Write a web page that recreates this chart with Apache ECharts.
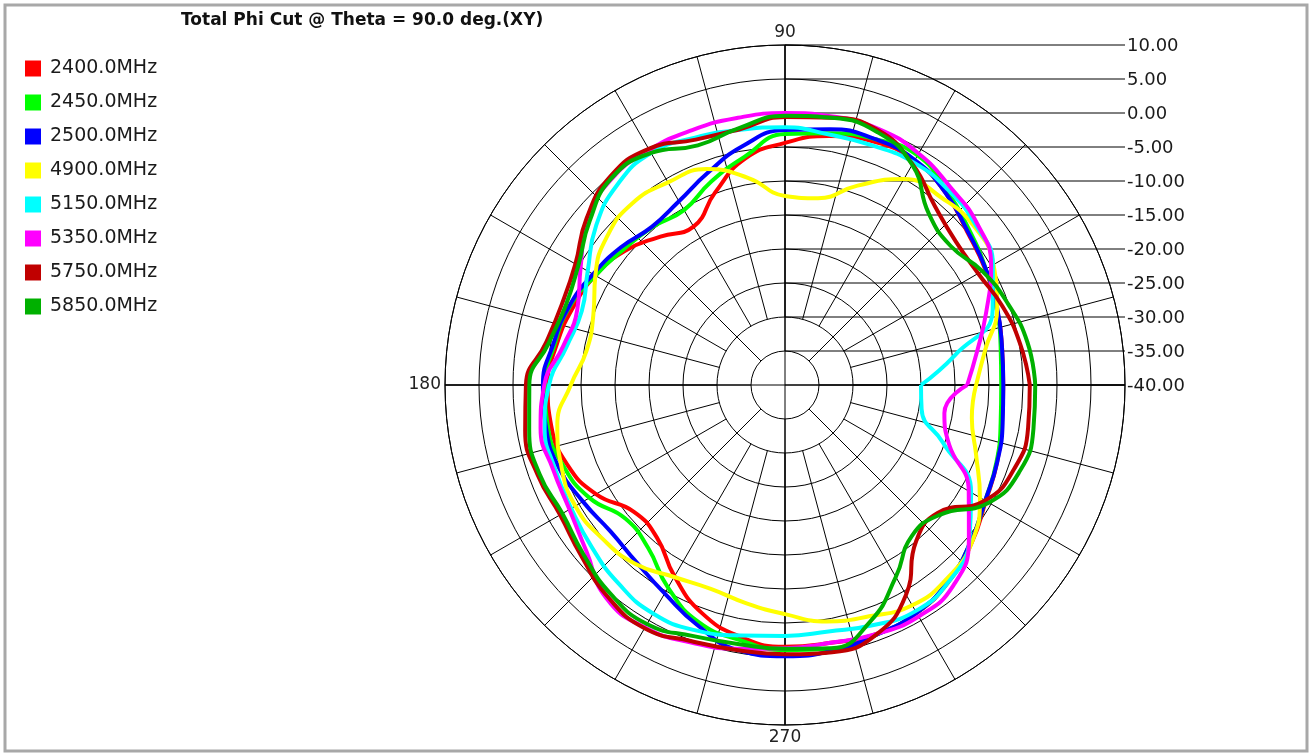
<!DOCTYPE html>
<html>
<head>
<meta charset="utf-8">
<script src="https://cdn.jsdelivr.net/npm/echarts/dist/echarts.min.js"></script>
<style>
html,body{margin:0;padding:0;background:#ffffff;}
#chart{width:1312px;height:755px;}
</style>
</head>
<body>
<div id="chart"></div>
<script>
// ---- data (dB values sampled every 10 degrees, phi = 0..350) ----
const angles = [0,10,20,30,40,50,60,70,80,90,100,110,120,130,140,150,160,170,180,190,200,210,220,230,240,250,260,270,280,290,300,310,320,330,340,350];
const freqLabels = ['2400.0MHz','2450.0MHz','2500.0MHz','4900.0MHz','5150.0MHz','5350.0MHz','5750.0MHz','5850.0MHz'];
const s2400 = [-7.9,-7.6,-6.9,-6.0,-5.0,-3.2,-1.9,-1.9,-2.8,-4.4,-6.2,-9.9,-13.1,-11.5,-9.3,-7.8,-6.8,-5.9,-5.1,-5.1,-5.9,-7.9,-11.0,-10.7,-7.5,-4.3,-2.4,-1.5,-1.5,-1.0,-1.3,-2.4,-4.1,-5.9,-6.8,-7.6];
const s2450 = [-8.2,-7.8,-6.9,-5.9,-4.6,-2.9,-1.0,-1.5,-2.4,-3.1,-5.9,-8.2,-10.3,-9.7,-9.0,-7.8,-6.3,-5.6,-4.7,-4.6,-5.3,-6.8,-9.4,-8.7,-5.6,-2.9,-1.9,-1.0,-0.6,-0.9,-1.3,-2.5,-4.3,-6.0,-6.9,-7.8];
const s2500 = [-7.9,-7.6,-6.8,-5.9,-4.9,-3.2,-1.8,-1.5,-1.8,-2.5,-4.3,-6.8,-8.8,-9.6,-8.5,-7.4,-6.2,-5.4,-4.4,-4.3,-4.6,-5.7,-6.5,-6.0,-4.6,-2.4,-0.4,-0.1,-0.3,-0.9,-1.3,-2.5,-4.3,-6.0,-6.8,-7.5];
const s4900 = [-11.9,-10.1,-6.8,-4.6,-3.7,-4.1,-5.0,-8.8,-12.1,-12.2,-9.1,-6.2,-5.6,-5.1,-5.9,-7.8,-10.0,-10.4,-8.5,-6.0,-5.0,-4.4,-4.9,-5.7,-7.4,-8.1,-7.4,-6.3,-4.7,-3.8,-2.6,-2.9,-4.1,-6.9,-10.1,-12.1];
const s5150 = [-20.0,-14.6,-7.5,-4.7,-3.4,-2.6,-2.2,-2.5,-2.6,-2.1,-1.9,-1.3,-0.6,-1.6,-3.7,-6.5,-8.2,-7.4,-5.3,-4.1,-4.0,-3.7,-2.9,-1.9,-1.2,-1.6,-2.6,-3.1,-3.2,-2.4,-1.6,-2.4,-4.6,-8.4,-15.3,-19.6];
const s5350 = [-13.2,-11.3,-8.5,-5.0,-3.1,-2.1,-0.7,0.1,0.1,0.0,-0.1,-0.1,-0.1,-0.4,-2.1,-5.3,-7.5,-6.9,-4.6,-3.5,-3.7,-3.4,-1.9,0.9,1.2,0.3,-0.6,-1.3,-1.5,-1.0,-0.7,-1.5,-4.7,-8.8,-14.3,-16.2];
const s5750 = [-4.0,-4.9,-6.0,-7.2,-7.2,-5.7,-2.5,-0.1,-0.1,-0.6,-1.8,-1.6,0.1,0.0,-1.9,-4.4,-5.1,-4.3,-1.9,-1.2,-1.3,-1.8,-0.9,0.6,1.3,0.1,-0.4,-0.4,-0.1,-0.9,-4.4,-10.0,-10.7,-6.0,-4.1,-3.7];
const s5850 = [-3.2,-3.8,-5.1,-6.5,-8.2,-7.1,-2.6,-0.4,-0.1,-0.4,-1.6,-2.5,-0.6,-0.3,-2.5,-4.9,-5.7,-4.7,-2.4,-1.8,-1.6,-2.2,-1.3,0.0,0.6,-0.7,-1.3,-1.2,-0.7,-3.1,-7.4,-11.0,-10.3,-5.4,-3.2,-2.9];
const radialTicks = [10,5,0,-5,-10,-15,-20,-25,-30,-35,-40];
const angleLabels = [90,180,270];
const titleText = 'Total Phi Cut @ Theta = 90.0 deg.(XY)';

const seriesValues = [s2400,s2450,s2500,s4900,s5150,s5350,s5750,s5850];
const colors = ['#ff0000','#00ff00','#0000ff','#ffff00','#00ffff','#ff00ff','#c00000','#00b000'];
const FONT = '"DejaVu Sans", sans-serif';
const CENTER = [785,385];
const R = 340;

const chart = echarts.init(document.getElementById('chart'), null, {renderer:'canvas'});

const gridLine = {color:'#000000', width:1};
const option = {
  animation:false,
  backgroundColor:'#ffffff',
  title:{
    text:titleText, left:176, top:7,
    textStyle:{fontFamily:FONT, fontSize:17, fontWeight:'bold', color:'#111111'}
  },
  legend:{
    orient:'vertical', left:25, top:59, padding:0, itemWidth:16, itemHeight:16, itemGap:15,
    icon:'rect', data:freqLabels,
    textStyle:{fontFamily:FONT, fontSize:19, color:'#1a1a1a', lineHeight:18, padding:[0,0,0,4]}
  },
  polar:[
    {center:CENTER, radius:[0,R]},
    {center:CENTER, radius:[34,R]},
    {center:CENTER, radius:[68,R]}
  ],
  angleAxis:[
    {polarIndex:0, type:'value', min:0, max:360, interval:90, startAngle:0, clockwise:false,
     axisLine:{show:true, lineStyle:gridLine}, axisTick:{show:false},
     axisLabel:{show:true, margin:4, fontFamily:FONT, fontSize:17, color:'#222222',
       formatter:function(v){ return angleLabels.indexOf(v) >= 0 ? String(v) : ''; }},
     splitLine:{show:true, lineStyle:gridLine}},
    {polarIndex:1, type:'value', min:0, max:360, interval:45, startAngle:0, clockwise:false,
     axisLine:{show:false}, axisTick:{show:false}, axisLabel:{show:false},
     splitLine:{show:true, lineStyle:gridLine}},
    {polarIndex:2, type:'value', min:0, max:360, interval:15, startAngle:0, clockwise:false,
     axisLine:{show:false}, axisTick:{show:false}, axisLabel:{show:false},
     splitLine:{show:true, lineStyle:gridLine}}
  ],
  radiusAxis:[
    {polarIndex:0, type:'value', min:-40, max:10, interval:5,
     axisLine:{show:false}, axisTick:{show:false}, axisLabel:{show:false},
     splitLine:{show:true, lineStyle:gridLine}},
    {polarIndex:1, type:'value', min:0, max:1, show:false},
    {polarIndex:2, type:'value', min:0, max:1, show:false}
  ],
  series: seriesValues.map(function(vals,i){
    return {
      name:freqLabels[i], type:'line', coordinateSystem:'polar', polarIndex:0,
      data: vals.map(function(v,j){ return [v, angles[j]]; }).concat([[vals[0], 360]]),
      showSymbol:false, smooth:true, z:3,
      lineStyle:{width:4, color:colors[i]}, itemStyle:{color:colors[i]}
    };
  })
};
chart.setOption(option);

// radial tick labels with horizontal leader lines, placed through the polar scale
const gEls = [];
const right = chart.convertToPixel({polarIndex:0}, [radialTicks[0], 0]);
radialTicks.forEach(function(t){
  const p = chart.convertToPixel({polarIndex:0}, [t, 90]);
  gEls.push({type:'line', z:1, silent:true,
    shape:{x1:p[0], y1:p[1], x2:right[0], y2:p[1]},
    style:{stroke:'#000000', lineWidth:1}});
  gEls.push({type:'text', z:1, silent:true, x:right[0]+2, y:p[1]+1,
    style:{text:t.toFixed(2), fill:'#1a1a1a', font:'18px ' + FONT, verticalAlign:'middle', align:'left'}});
});
gEls.push({type:'rect', z:0, silent:true, shape:{x:5, y:5, width:1302, height:746},
  style:{fill:'none', stroke:'#a8a8a8', lineWidth:3}});
chart.setOption({graphic:gEls});
</script>
</body>
</html>
